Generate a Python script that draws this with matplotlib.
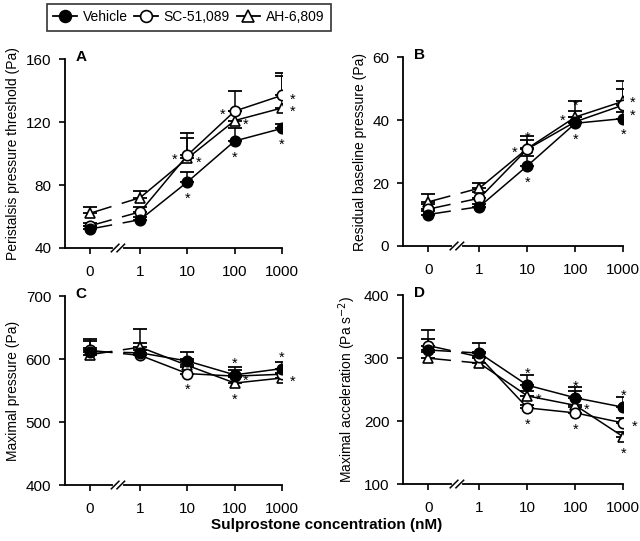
import numpy as np
import matplotlib
matplotlib.use('Agg')
import matplotlib.pyplot as plt
from matplotlib.lines import Line2D
import matplotlib.transforms as mtransforms

plt.rcParams['font.family'] = ['Liberation Sans', 'DejaVu Sans']

conc_labels = ['0', '1', '10', '100', '1000']
series_names = ['Vehicle', 'SC-51,089', 'AH-6,809']

# panel A - peristalsis pressure threshold (Pa)
A_veh = [52, 58, 82, 108, 116]
A_sc = [54, 63, 99, 127, 137]
A_ah = [62, 72, 97, 121, 129]
A_veh_err = [2, 2, 6, 8, 3]
A_sc_err = [2, 3, 14, 13, 14]
A_ah_err = [4, 4, 13, 6, 20]

# panel B - residual baseline pressure (Pa)
B_veh = [10, 12.5, 25.5, 39, 40.5]
B_sc = [11.7, 15.2, 30.8, 39.5, 44.8]
B_ah = [14, 18.4, 31, 41, 46]
B_veh_err = [1, 1, 3, 2, 2]
B_sc_err = [1.5, 2, 3, 3.5, 5]
B_ah_err = [2.5, 1.5, 4, 5, 6.4]

# panel C - maximal pressure (Pa)
C_veh = [612, 610, 597, 575, 585]
C_sc = [614, 606, 577, 573, 576]
C_ah = [607, 619, 590, 562, 570]
C_veh_err = [20, 15, 14, 12, 10]
C_sc_err = [15, 8, 10, 10, 8]
C_ah_err = [10, 29, 10, 10, 8]

# panel D - maximal acceleration (Pa s-2)
D_veh = [313, 308, 257, 237, 222]
D_sc = [320, 302, 221, 213, 197]
D_ah = [300, 292, 240, 225, 175]
D_veh_err = [17, 16, 16, 17, 16]
D_sc_err = [24, 8, 5, 10, 8]
D_ah_err = [10, 8, 8, 23, 8]

# significance stars: (series index, point index, side)
A_stars = [(1, 2, 'left'), (2, 2, 'right'), (0, 2, 'down'),
           (1, 3, 'left'), (2, 3, 'right'), (0, 3, 'down'),
           (1, 4, 'right'), (2, 4, 'right'), (0, 4, 'down')]
B_stars = [(2, 2, 'up'), (2, 2, 'left'), (0, 2, 'down'),
           (2, 3, 'up'), (2, 3, 'left'), (0, 3, 'down'),
           (2, 4, 'ur'), (1, 4, 'dr'), (0, 4, 'down')]
C_stars = [(1, 2, 'down'),
           (0, 3, 'up'), (1, 3, 'right'), (2, 3, 'down'),
           (0, 4, 'up'), (2, 4, 'right')]
D_stars = [(0, 2, 'up'), (2, 2, 'right'), (1, 2, 'down'),
           (0, 3, 'up'), (2, 3, 'right'), (1, 3, 'down'),
           (0, 4, 'up'), (1, 4, 'right'), (2, 4, 'down')]

xpos = np.array([0, 1.07, 2.07, 3.07, 4.07])
markers = [dict(marker='o', mfc='black'), dict(marker='o', mfc='white'), dict(marker='^', mfc='white')]
offsets = {'up': (0, 8), 'down': (0, -12), 'left': (-9, -3), 'right': (8, -3),
           'ur': (7, -1), 'dr': (7, -8)}


def draw_panel(ax, vals, errs, stars, ylim, yticks, ylabel, letter):
    # draw order: triangles first, then circles on top
    for k in [2, 1, 0]:
        y = np.array(vals[k], dtype=float)
        e = np.array(errs[k], dtype=float)
        ax.errorbar(xpos, y, yerr=[np.zeros_like(e), e], fmt='none', ecolor='black',
                    elinewidth=1.1, capsize=5, capthick=1.3, zorder=2)
        ax.plot(xpos[:2], y[:2], color='black', lw=1.1, linestyle=(0, (15, 7)), zorder=3)
        ax.plot(xpos[1:], y[1:], color='black', lw=1.1, zorder=3)
        ax.plot(xpos, y, linestyle='none', mec='black', mew=1.2, ms=7.5,
                zorder=4 + (2 - k), **markers[k])
    for k, i, side in stars:
        ax.annotate('*', xy=(xpos[i], vals[k][i]), xytext=offsets[side], textcoords='offset points',
                    ha='center', va='center', fontsize=10.5, zorder=6)
    ax.set_xlim(-0.52, xpos[-1])
    ax.set_ylim(*ylim)
    ax.set_yticks(yticks)
    ax.set_xticks(xpos)
    ax.set_xticklabels(conc_labels)
    ax.set_ylabel(ylabel, fontsize=10)
    for s in ['top', 'right']:
        ax.spines[s].set_visible(False)
    for s in ['left', 'bottom']:
        ax.spines[s].set_linewidth(1.3)
        ax.spines[s].set_clip_on(False)
    ax.tick_params(direction='out', length=4, width=1.2, labelsize=11, pad=6)
    ax.tick_params(axis='x', pad=8)
    ax.text(0.05, 1.01, letter, transform=ax.transAxes, fontsize=11, fontweight='bold',
            ha='left', va='center')
    # axis break on the x axis
    trans = mtransforms.blended_transform_factory(ax.transData, ax.transAxes)
    bx = 0.6
    ax.plot([bx - 0.07, bx + 0.07], [0, 0], color='white', lw=3, transform=trans, clip_on=False, zorder=7)
    for d in [-0.06, 0.06]:
        ax.plot([bx + d - 0.08, bx + d + 0.08], [-0.02, 0.02], color='black', lw=1.1,
                transform=trans, clip_on=False, zorder=8)


fig = plt.figure(figsize=(6.4, 5.41), dpi=100)
axA = fig.add_axes([0.1016, 0.5416, 0.339, 0.349])
axB = fig.add_axes([0.630, 0.5453, 0.344, 0.349])
axC = fig.add_axes([0.1016, 0.1035, 0.339, 0.349])
axD = fig.add_axes([0.630, 0.1053, 0.344, 0.349])

draw_panel(axA, [A_veh, A_sc, A_ah], [A_veh_err, A_sc_err, A_ah_err], A_stars,
           (40, 160), [40, 80, 120, 160], 'Peristalsis pressure threshold (Pa)', 'A')
draw_panel(axB, [B_veh, B_sc, B_ah], [B_veh_err, B_sc_err, B_ah_err], B_stars,
           (0, 60), [0, 20, 40, 60], 'Residual baseline pressure (Pa)', 'B')
draw_panel(axC, [C_veh, C_sc, C_ah], [C_veh_err, C_sc_err, C_ah_err], C_stars,
           (400, 700), [400, 500, 600, 700], 'Maximal pressure (Pa)', 'C')
draw_panel(axD, [D_veh, D_sc, D_ah], [D_veh_err, D_sc_err, D_ah_err], D_stars,
           (100, 400), [100, 200, 300, 400], 'Maximal acceleration (Pa s$^{-2}$)', 'D')

fig.text(0.51, 0.03, 'Sulprostone concentration (nM)', ha='center', va='center',
         fontsize=11, fontweight='bold')

handles = [Line2D([], [], color='black', lw=1.3, ms=8.5, mec='black', mew=1.2, **markers[k])
           for k in range(3)]
leg = fig.legend(handles, series_names, loc='center', bbox_to_anchor=(0.295, 0.968), ncol=3,
                 frameon=True, fancybox=False, edgecolor='black', fontsize=10,
                 handlelength=1.7, handletextpad=0.4, columnspacing=0.5, borderpad=0.45,
                 borderaxespad=0)
leg.get_frame().set_linewidth(1.2)

fig.savefig('out.png', dpi=100)
